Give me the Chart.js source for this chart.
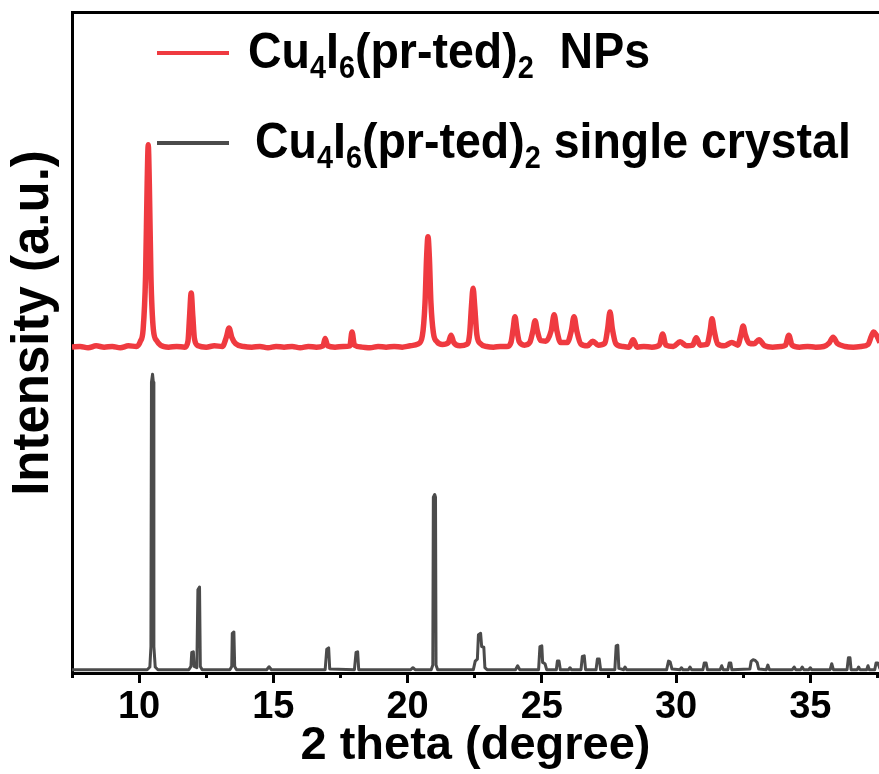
<!DOCTYPE html>
<html>
<head>
<meta charset="utf-8">
<script src="https://cdn.jsdelivr.net/npm/chart.js@4.4.1/dist/chart.umd.min.js"></script>
<style>
  html, body { margin: 0; padding: 0; background: #ffffff; }
  #wrap { width: 879px; height: 774px; position: relative; }
</style>
</head>
<body>
<div id="wrap"><canvas id="c" width="879" height="774"></canvas></div>
<script>
// ---------- DATA ----------
// Series 1: Cu4I6(pr-ted)2 NPs (offset upwards)
const npTheta = [7.5,7.8,8.1,8.4,8.7,9.0,9.3,9.6,9.9,10.05,10.15,10.24,10.3,10.34,10.38,10.44,10.53,10.65,10.8,11.1,11.4,11.7,11.82,11.88,11.94,12.0,12.06,12.2,12.5,12.8,13.1,13.25,13.35,13.45,13.6,13.9,14.2,14.5,14.8,15.1,15.4,15.7,16.0,16.3,16.6,16.85,16.93,17.02,17.3,17.6,17.85,17.93,18.02,18.3,18.6,18.9,19.2,19.5,19.8,20.1,20.4,20.55,20.65,20.71,20.76,20.81,20.87,20.96,21.1,21.3,21.52,21.62,21.72,21.95,22.2,22.31,22.38,22.44,22.5,22.58,22.72,22.95,23.2,23.45,23.7,23.85,23.93,24.0,24.07,24.16,24.35,24.55,24.67,24.75,24.83,24.95,25.15,25.35,25.46,25.56,25.7,25.95,26.1,26.2,26.3,26.45,26.7,26.9,27.1,27.35,27.45,27.54,27.63,27.76,28.0,28.25,28.4,28.55,28.8,29.1,29.38,29.5,29.62,29.9,30.15,30.4,30.62,30.75,30.9,31.15,31.27,31.34,31.42,31.55,31.8,32.08,32.3,32.42,32.5,32.58,32.72,32.9,33.09,33.3,33.6,33.9,34.08,34.2,34.32,34.6,34.9,35.2,35.5,35.7,35.85,36.0,36.3,36.6,36.9,37.15,37.28,37.36,37.45,37.6];
const npIntensity = [49.3,49.4,49.2,49.5,49.3,49.4,49.2,49.5,49.4,50.2,52.0,60.0,74.0,79.9,74.0,60.0,52.0,50.3,49.6,49.3,49.4,49.3,50.2,54.0,57.5,54.0,50.6,49.5,49.3,49.5,49.4,50.8,52.2,50.8,49.8,49.4,49.3,49.4,49.2,49.4,49.3,49.4,49.2,49.4,49.3,49.5,50.6,49.5,49.3,49.4,49.5,51.6,49.6,49.3,49.2,49.4,49.3,49.4,49.3,49.5,49.8,51.0,56.0,63.0,66.0,63.0,56.0,51.5,50.1,49.7,50.0,51.1,50.0,49.5,49.7,51.2,55.5,58.2,55.5,51.2,49.8,49.4,49.3,49.4,49.4,50.0,52.0,53.9,52.0,50.1,49.6,50.0,51.8,53.3,51.8,50.3,50.2,51.8,54.2,51.8,50.0,50.0,51.8,53.9,51.8,49.8,49.5,50.2,49.6,49.9,52.0,54.6,52.0,49.8,49.4,49.3,50.4,49.3,49.4,49.3,49.6,51.3,49.6,49.4,50.1,49.5,49.6,50.7,49.6,49.7,51.8,53.6,51.8,49.8,49.5,50.0,49.6,51.2,52.5,51.2,49.9,49.8,50.4,49.5,49.3,49.4,49.6,51.1,49.6,49.3,49.4,49.3,49.4,49.9,50.8,49.9,49.4,49.3,49.4,49.7,51.0,51.6,51.2,50.0];

// Series 2: Cu4I6(pr-ted)2 single crystal
const scTheta = [7.5,10.3,10.4,10.44,10.46,10.5,10.53,10.55,10.6,10.7,11.85,11.93,11.96,12.02,12.05,12.15,12.19,12.25,12.28,12.35,13.38,13.45,13.47,13.53,13.56,13.63,14.75,14.84,14.93,16.93,16.99,17.06,17.1,18.02,18.08,18.14,18.18,20.12,20.2,20.28,20.88,20.94,20.96,21.01,21.04,21.06,21.12,22.45,22.52,22.6,22.64,22.72,22.76,22.84,22.88,22.96,24.02,24.1,24.18,24.88,24.93,25.0,25.03,25.12,25.18,25.54,25.58,25.64,25.69,26.0,26.05,26.1,26.46,26.51,26.58,26.63,27.02,27.07,27.14,27.19,27.72,27.77,27.83,27.87,28.05,28.1,28.16,29.65,29.72,29.78,29.85,30.15,30.2,30.26,30.46,30.52,30.58,31.0,31.05,31.12,31.17,31.64,31.7,31.76,31.93,31.98,32.04,32.08,32.75,32.8,32.87,32.95,33.02,33.08,33.36,33.42,33.48,34.33,34.4,34.46,34.64,34.7,34.76,34.95,35.0,35.05,35.74,35.8,35.86,36.37,36.42,36.48,36.52,36.75,36.8,36.85,37.1,37.15,37.2,37.4,37.45,37.52,37.6];
const scIntensity = [0.5,0.5,0.9,4,44,45.2,44,4,0.9,0.5,0.5,1,3.1,3.2,1,0.8,12.6,13.0,1.0,0.5,0.5,1.0,6.0,6.2,1.0,0.5,0.5,0.95,0.5,0.5,3.6,3.8,0.6,0.5,3.1,3.2,0.5,0.5,0.8,0.5,0.5,1.2,26.6,27.0,26.6,1.2,0.5,0.5,1.8,2.1,5.8,6.0,4.0,3.9,0.8,0.5,0.5,1.1,0.5,0.5,4.0,4.1,1.6,1.4,0.5,0.5,1.8,1.8,0.5,0.5,0.8,0.5,0.5,2.5,2.6,0.5,0.5,2.1,2.1,0.5,0.5,4.1,4.2,0.7,0.5,0.9,0.5,0.5,1.8,1.7,0.6,0.5,0.8,0.5,0.5,0.9,0.5,0.5,1.5,1.5,0.5,0.5,1.1,0.5,0.5,1.5,1.5,0.5,0.6,1.8,2.0,1.9,1.6,0.6,0.5,1.2,0.5,0.5,0.9,0.5,0.5,0.9,0.5,0.5,0.8,0.5,0.5,1.4,0.5,0.5,2.3,2.3,0.5,0.5,0.9,0.5,0.5,1.1,0.5,0.5,1.5,1.5,0.6];

const majorTicks = [10, 15, 20, 25, 30, 35];
const minorTicks = [7.5, 12.5, 17.5, 22.5, 27.5, 32.5, 37.5];
const seriesNames = ['NPs', 'single crystal'];
const xTitle = '2 theta (degree)';
const yTitle = 'Intensity (a.u.)';

// ---------- STYLE ----------
const FONT = "'Liberation Sans', Arial, sans-serif";
const RED = '#ef3a40';
const GRAY = '#4b4b4b';
const X_MIN = 7.5, X_MAX = 37.56;

const npData = npTheta.map((x, i) => ({x, y: npIntensity[i]}));
const scData = scTheta.map((x, i) => ({x, y: scIntensity[i]}));

function drawRich(ctx, x, y, parts, size, sx) {
  ctx.save();
  ctx.translate(x, y);
  ctx.scale(sx, 1);
  let cx = 0;
  for (const p of parts) {
    const s = p.sub ? size * 0.62 : size;
    ctx.font = 'bold ' + s + 'px ' + FONT;
    const dy = p.sub ? size * 0.2 : 0;
    ctx.fillText(p.t, cx, dy);
    cx += ctx.measureText(p.t).width;
  }
  ctx.restore();
}

const textPlugin = {
  id: 'richText',
  afterDraw(chart) {
    const ctx = chart.ctx;
    ctx.save();
    // legend samples
    ctx.lineWidth = 4;
    ctx.lineCap = 'butt';
    ctx.strokeStyle = RED;
    ctx.beginPath(); ctx.moveTo(157, 53); ctx.lineTo(229, 53); ctx.stroke();
    ctx.strokeStyle = GRAY;
    ctx.beginPath(); ctx.moveTo(157, 143); ctx.lineTo(229, 143); ctx.stroke();
    // legend texts
    ctx.fillStyle = '#000';
    ctx.textBaseline = 'alphabetic';
    ctx.textAlign = 'left';
    const base = [{t:'Cu'},{t:'4',sub:true},{t:'I'},{t:'6',sub:true},{t:'(pr-ted)'},{t:'2',sub:true}];
    drawRich(ctx, 248, 68, base.concat([{t:'  ' + seriesNames[0]}]), 50, 0.93);
    drawRich(ctx, 255, 158, base.concat([{t:' ' + seriesNames[1]}]), 50, 0.93);
    // y axis title
    ctx.translate(34, 323);
    ctx.rotate(-Math.PI / 2);
    ctx.textAlign = 'center';
    ctx.textBaseline = 'middle';
    ctx.font = 'bold 51px ' + FONT;
    ctx.fillText(yTitle, 0, 0);
    ctx.restore();
  }
};

new Chart(document.getElementById('c'), {
  type: 'line',
  data: {
    datasets: [
      { label: 'Cu4I6(pr-ted)2  NPs', data: npData, borderColor: RED, borderWidth: 5.5,
        borderJoinStyle: 'round', pointRadius: 0, cubicInterpolationMode: 'monotone', fill: false },
      { label: 'Cu4I6(pr-ted)2 single crystal', data: scData, borderColor: GRAY, borderWidth: 3,
        borderJoinStyle: 'round', pointRadius: 0, tension: 0, fill: false }
    ]
  },
  options: {
    responsive: false,
    animation: false,
    devicePixelRatio: 1,
    layout: { padding: { top: 12, right: 0, bottom: 0, left: 0 } },
    plugins: { legend: { display: false }, tooltip: { enabled: false } },
    scales: {
      x: {
        type: 'linear', position: 'bottom', weight: 1,
        min: X_MIN, max: X_MAX,
        afterBuildTicks: (s) => { s.ticks = majorTicks.map(v => ({value: v})); },
        afterFit: (s) => { s.height = 101; },
        grid: { display: true, drawOnChartArea: false, drawTicks: true, tickLength: 10, tickWidth: 3, tickColor: '#000' },
        border: { display: true, color: '#000', width: 3 },
        ticks: { color: '#000', font: { family: FONT, size: 38, weight: 'bold' }, padding: 2, maxRotation: 0 },
        title: { display: true, text: xTitle, color: '#000', font: { family: FONT, size: 47, weight: 'bold' }, padding: { top: 0, bottom: 0 } }
      },
      xMinor: {
        type: 'linear', position: 'bottom', weight: 0,
        min: X_MIN, max: X_MAX,
        afterBuildTicks: (s) => { s.ticks = minorTicks.map(v => ({value: v})); },
        afterFit: (s) => { s.height = 0; },
        grid: { display: true, drawOnChartArea: false, drawTicks: true, tickLength: 5, tickWidth: 3, tickColor: '#000' },
        border: { display: false },
        ticks: { display: false }
      },
      xTop: {
        type: 'linear', position: 'top',
        min: X_MIN, max: X_MAX,
        afterFit: (s) => { s.height = 0; },
        grid: { display: false, drawTicks: false },
        border: { display: true, color: '#000', width: 3 },
        ticks: { display: false }
      },
      y: {
        type: 'linear', position: 'left',
        min: 0, max: 100,
        afterFit: (s) => { s.width = 72; },
        grid: { display: false, drawTicks: false },
        border: { display: true, color: '#000', width: 3 },
        ticks: { display: false },
        title: { display: false, text: yTitle }
      }
    }
  },
  plugins: [textPlugin]
});
</script>
</body>
</html>
